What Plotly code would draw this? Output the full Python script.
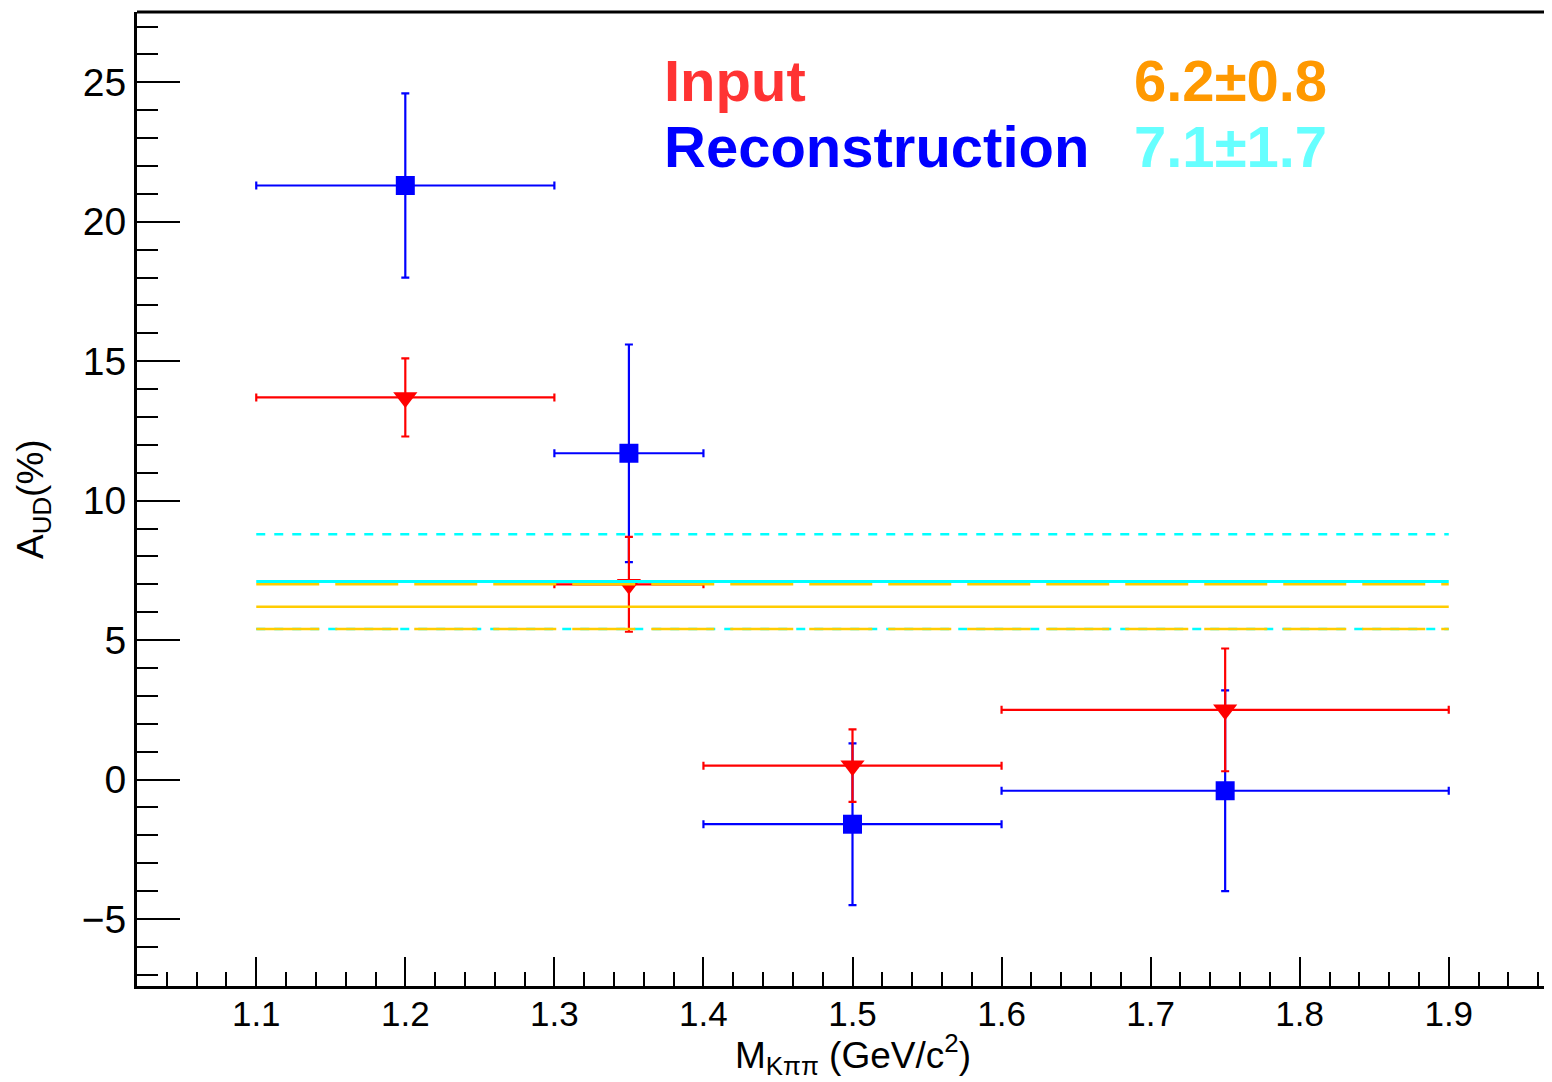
import plotly.graph_objects as go

# ---- data ----
bin_centers = [1.2, 1.35, 1.5, 1.75]
bin_halfwidths = [0.1, 0.05, 0.1, 0.15]
input_vals = [13.7, 7.0, 0.5, 2.5]
input_errs = [1.4, 1.7, 1.3, 2.2]
reco_vals = [21.3, 11.7, -1.6, -0.4]
reco_errs = [3.3, 3.9, 2.9, 3.6]
line_x = [1.1, 1.9]
input_avg, input_avg_err = 6.2, 0.8
reco_avg, reco_avg_err = 7.1, 1.7
labels = ["Input", "Reconstruction"]
avg_texts = ["6.2±0.8", "7.1±1.7"]

# figure geometry (page has an 8px body margin)
W, H = 1600, 1082
L, T, B = 129, 4, 104
X_RANGE = [1.02, 1.98]
PX_PER_X = 1491.0
PW = int(round((X_RANGE[1] - X_RANGE[0]) * PX_PER_X))
R = W - L - PW
PH = H - T - B
FONT = "Liberation Sans, Arial, Helvetica, sans-serif"

RED = "#ff0000"
BLUE = "#0000ff"
CYAN = "#00ffff"
GOLD = "#ffcc00"

fig = go.Figure()

# Reconstruction (blue squares)
fig.add_trace(go.Scatter(
    x=bin_centers, y=reco_vals, mode="markers",
    marker=dict(symbol="square", size=19, color=BLUE, line=dict(width=0)),
    error_x=dict(type="data", array=bin_halfwidths, color=BLUE, thickness=2.2, width=4),
    error_y=dict(type="data", array=reco_errs, color=BLUE, thickness=2.2, width=4),
    showlegend=False))

# Input (red triangles)
fig.add_trace(go.Scatter(
    x=bin_centers, y=input_vals, mode="markers",
    marker=dict(symbol="triangle-down", size=21, color=RED, line=dict(width=0)),
    error_x=dict(type="data", array=bin_halfwidths, color=RED, thickness=2.2, width=4),
    error_y=dict(type="data", array=input_errs, color=RED, thickness=2.2, width=4),
    showlegend=False))

def hline(y, color, dash, width):
    fig.add_trace(go.Scatter(x=line_x, y=[y, y], mode="lines",
                             line=dict(color=color, dash=dash, width=width),
                             hoverinfo="skip", showlegend=False))

# reconstruction band lines (cyan)
hline(reco_avg + reco_avg_err, CYAN, "9px,9px", 2.5)
hline(reco_avg - reco_avg_err, CYAN, "9px,9px", 2.5)
# input band lines (gold)
hline(input_avg + input_avg_err, GOLD, "63px,16px", 2.5)
hline(input_avg - input_avg_err, GOLD, "63px,16px", 2.5)
hline(input_avg, GOLD, "solid", 2.5)
hline(reco_avg, CYAN, "solid", 3)

def px_x(p):
    return (p - L) / PW

def px_y(p):
    return (H - B - p) / PH

annotations = [
    dict(text=labels[0], x=px_x(654), y=px_y(72), xanchor="left", yanchor="middle",
         font=dict(family=FONT, size=58, color="#ff3333", weight="bold")),
    dict(text=labels[1], x=px_x(654), y=px_y(139), xanchor="left", yanchor="middle",
         font=dict(family=FONT, size=58, color=BLUE, weight="bold")),
    dict(text=avg_texts[0], x=px_x(1124), y=px_y(72), xanchor="left", yanchor="middle",
         font=dict(family=FONT, size=58, color="#ff9900", weight="bold")),
    dict(text=avg_texts[1], x=px_x(1124), y=px_y(139), xanchor="left", yanchor="middle",
         font=dict(family=FONT, size=58, color="#66ffff", weight="bold")),
    dict(text="M<sub>Kππ</sub> (GeV/c<sup>2</sup>)", x=1.5, xref="x", y=px_y(1046),
         xanchor="center", yanchor="middle",
         font=dict(family=FONT, size=37, color="black")),
    dict(text="A<sub>UD</sub>(%)", x=px_x(25), y=0.5, textangle=-90,
         xanchor="center", yanchor="middle",
         font=dict(family=FONT, size=37, color="black")),
]
for a in annotations:
    a.setdefault("xref", "paper")
    a["yref"] = "paper"
    a["showarrow"] = False

fig.update_layout(
    width=W, height=H,
    margin=dict(l=L, r=R, t=T, b=B, pad=0),
    paper_bgcolor="white", plot_bgcolor="white",
    annotations=annotations,
    shapes=[dict(type="line", xref="paper", yref="paper", x0=0, x1=1, y0=1, y1=1,
                 line=dict(color="black", width=3))],
    xaxis=dict(range=X_RANGE, showgrid=False, zeroline=False,
               showline=True, linecolor="black", linewidth=3,
               ticks="inside", ticklen=29, tickwidth=2, tickcolor="black",
               tick0=1.1, dtick=0.1, tickformat=".1f", ticklabelstandoff=-5,
               tickfont=dict(family=FONT, size=35, color="black"),
               minor=dict(ticks="inside", dtick=0.02, tick0=1.0, ticklen=14,
                          tickwidth=2, tickcolor="black", showgrid=False)),
    yaxis=dict(range=[-7.4, 27.52], showgrid=False, zeroline=False,
               showline=True, linecolor="black", linewidth=3,
               ticks="inside", ticklen=43, tickwidth=2, tickcolor="black",
               tick0=0, dtick=5,
               tickfont=dict(family=FONT, size=39, color="black"),
               minor=dict(ticks="inside", dtick=1, tick0=0, ticklen=21,
                          tickwidth=2, tickcolor="black", showgrid=False)),
)

fig.write_html("out.html")
